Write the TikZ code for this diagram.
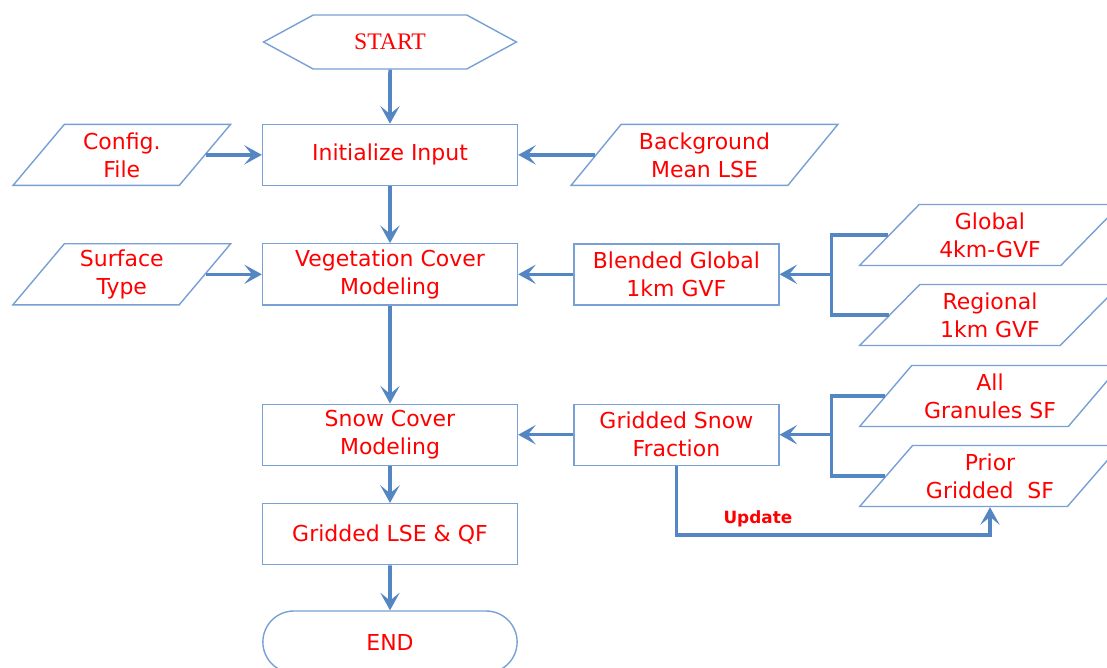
\documentclass[tikz,border=0pt]{standalone}
\usepackage{fontspec}
\setmainfont{DejaVu Sans}
\newfontfamily\startfont{Liberation Serif}
\usepackage{tikz}
\usetikzlibrary{shapes.geometric, shapes.symbols, shapes.misc, arrows.meta, positioning, calc}
\definecolor{edgeblue}{RGB}{120,160,212}
\definecolor{flowblue}{RGB}{84,134,196}
\definecolor{labelred}{RGB}{255,0,0}
\begin{document}
\begin{tikzpicture}[
        x=0.02cm, y=-0.02cm,
        box/.style={rectangle, draw=edgeblue, line width=0.8pt, fill=white, minimum width=5.1cm, minimum height=1.22cm, align=center, text=labelred, font=\fontsize{12.5}{16}\selectfont},
        datain/.style={trapezium, trapezium left angle=50, trapezium right angle=130, trapezium stretches=true, draw=edgeblue, line width=0.8pt, fill=white, minimum width=5.22cm, minimum height=1.22cm, align=center, text=labelred, font=\fontsize{12.5}{16}\selectfont},
        terminal/.style={signal, signal to=west and east, signal pointer angle=57, draw=edgeblue, line width=0.8pt, minimum width=5.06cm, minimum height=1.08cm, text=labelred, font=\startfont\fontsize{13.5}{15}\selectfont},
        stopbox/.style={rounded rectangle, draw=edgeblue, line width=0.8pt, minimum width=5.32cm, minimum height=1.24cm, text=labelred, font=\fontsize{12.5}{16}\selectfont},
        arrow/.style={line width=2pt, draw=flowblue, -{Stealth[length=10pt, width=11pt, inset=4.5pt]}},
        line/.style={line width=2pt, draw=flowblue}
        ]

        \clip (0,0) rectangle (1107,667);

        % Main column
        \node (start) [terminal] at (390,42) {START};
        \node (init) [box, below=1.08cm of start] {Initialize Input};
        \node (veg) [box, below=1.14cm of init] {Vegetation Cover\\Modeling};
        \node (snow) [box, below=1.96cm of veg] {Snow Cover\\Modeling};
        \node (lse) [box, below=0.74cm of snow] {Gridded LSE \& QF};
        \node (finish) [stopbox, below=0.9cm of lse] {END};

        % Inputs
        \node (config) [datain, trapezium left angle=55, trapezium right angle=125, minimum width=4.36cm, left=1.12cm of init] {Config.\\File};
        \node (surface) [datain, trapezium left angle=55, trapezium right angle=125, minimum width=4.36cm, left=1.12cm of veg] {Surface\\Type};
        \node (bgmean) [datain, trapezium left angle=53, trapezium right angle=127, minimum width=5.34cm, right=1.54cm of init] {Background\\Mean LSE};
        \node (blended) [box, minimum width=4.1cm, right=1.1cm of veg] {Blended Global\\1km GVF};
        \node (snowfrac) [box, minimum width=4.1cm, right=1.1cm of snow] {Gridded Snow\\Fraction};

        \node (global) [datain] at (990,235) {Global\\4km-GVF};
        \node (regional) [datain] at (990,315) {Regional\\1km GVF};
        \node (granules) [datain] at (990,396) {All\\Granules SF};
        \node (prior) [datain] at (990,476) {Prior\\Gridded\ \ SF};

        % Arrows
        \draw [arrow] (start) -- (init);
        \draw [arrow] (init) -- (veg);
        \draw [arrow] (veg) -- (snow);
        \draw [arrow] (snow) -- (lse);
        \draw [arrow] (lse) -- (finish);

        \draw [arrow] (config.east) -- (init.west);
        \draw [arrow] (surface.east) -- (veg.west);
        \draw [arrow] (bgmean.west) -- (init.east);
        \draw [arrow] (blended.west) -- (veg.east);
        \draw [arrow] (snowfrac.west) -- (snow.east);

        \coordinate (gvfjoin) at ($(blended.east)+(52,0)$);
        \coordinate (sfjoin) at ($(snowfrac.east)+(52,0)$);
        \draw [line] (global.west) -| (gvfjoin) |- (regional.west);
        \draw [arrow] (gvfjoin) -- (blended.east);
        \draw [line] (granules.west) -| (sfjoin) |- (prior.west);
        \draw [arrow] (sfjoin) -- (snowfrac.east);

        \draw [arrow] (snowfrac.south) -- ++(0,69) -| node[pos=0.13, above, text=labelred, font=\bfseries\fontsize{9.6}{11}\selectfont] {Update} (prior.south);

    \end{tikzpicture}
\end{document}
